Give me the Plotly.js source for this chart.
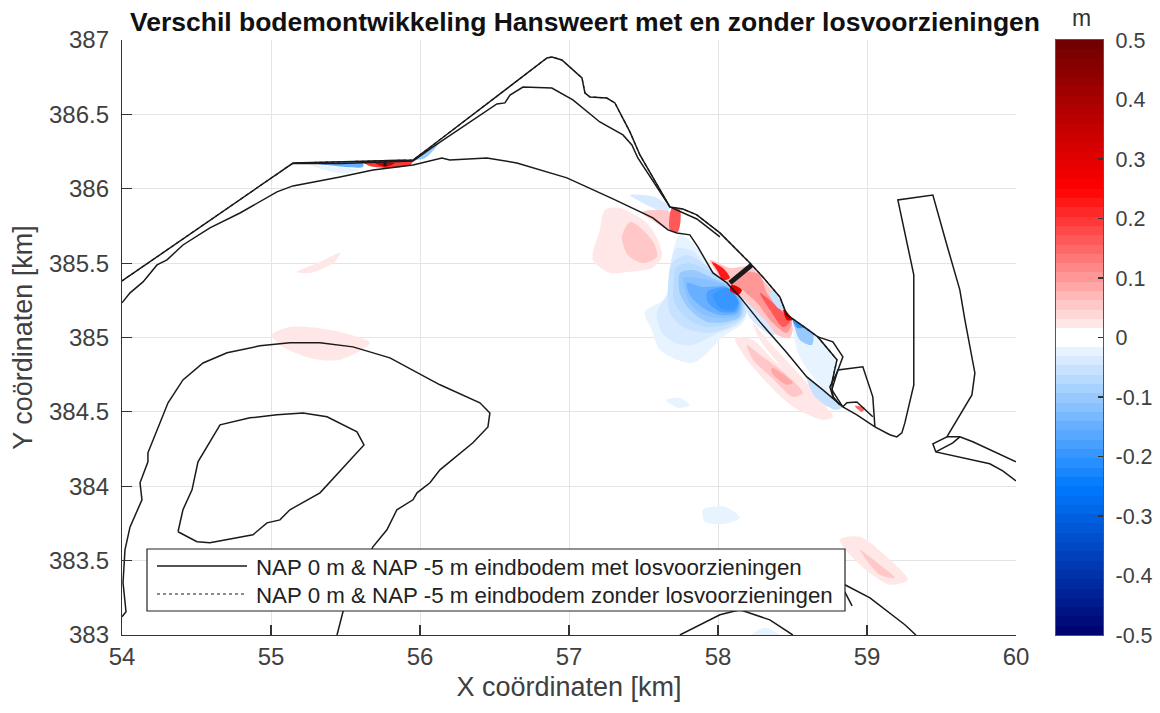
<!DOCTYPE html>
<html><head><meta charset="utf-8"><title>Verschil bodemontwikkeling Hansweert</title>
<script src="https://cdn.plot.ly/plotly-3.0.1.min.js"></script>
<style>html,body{margin:0;padding:0;background:#fff}</style></head>
<body><div id="chart" style="width:1160px;height:713px"></div>
<script>
// ---- bed-level lines (km) ----
const upperX=[54,55.148,55.953,56.087,56.852,56.886,56.952,57.087,57.107,57.141,57.254,57.308,57.409,57.476,57.677,57.764,57.858,58.013,58.214,58.301,58.415,58.462,58.502,58.67,58.798,58.764,58.771,58.818];
const upperY=[385.38,386.173,386.193,386.294,386.879,386.886,386.866,386.745,386.644,386.617,386.61,386.577,386.382,386.227,385.878,385.864,385.824,385.703,385.501,385.407,385.273,385.152,385.125,385.004,384.85,384.695,384.601,384.547];
const upperInnerX=[55.141,55.463,55.953,56.087,56.516,56.57,56.604,56.691,56.885,57.026,57.207,57.362,57.422,57.462,57.677,57.858,58.013];
const upperInnerY=[386.17,386.17,386.187,386.281,386.57,386.577,386.63,386.684,386.677,386.597,386.449,386.362,386.294,386.207,385.878,385.797,385.676];
const outerLoopX=[58.67,58.771,58.838,58.798,58.751,58.771,58.818];
const outerLoopY=[385.004,384.971,384.87,384.762,384.668,384.601,384.547];
const boxX=[58.838,58.764,58.805,58.972,59.039,59.053];
const boxY=[384.534,384.648,384.782,384.803,384.601,384.399];
const boxInnerX=[58.838,58.865,58.932,59.039];
const boxInnerY=[384.534,384.561,384.567,384.467];
const lowerX=[54,54.054,54.141,54.235,54.302,54.409,54.59,54.792,55.04,55.147,55.463,55.684,55.953,56.147,56.2,56.449,56.65,56.986,57.295,57.563,57.664,57.724,57.811,57.865,57.966,58.06,58.147,58.281,58.462,58.596,58.704,58.838,58.932,59.053,59.153,59.2,59.234,59.254,59.314,59.314,59.314,59.207,59.442,59.536,59.623,59.657,59.724,59.704,59.536,59.442,59.462,59.824,59.911,60];
const lowerY=[385.233,385.3,385.374,385.488,385.522,385.622,385.737,385.837,385.979,386.019,386.079,386.126,386.16,386.207,386.194,386.207,386.173,386.073,385.932,385.804,385.723,385.703,385.69,385.609,385.434,385.367,385.273,385.105,384.897,384.735,384.648,384.534,384.48,384.399,384.346,384.332,384.359,384.426,384.682,385.118,385.421,385.925,385.958,385.622,385.32,385.118,384.762,384.614,384.332,384.285,384.231,384.151,384.104,384.036];
const eastX=[59.536,59.623,59.71,60];
const eastY=[384.332,384.332,384.299,384.164];
const eastInnerX=[59.462,59.576,59.623];
const eastInnerY=[384.231,384.292,384.332];
const flatX=[54,54.027,54.007,54.02,54.054,54.134,54.121,54.174,54.174,54.309,54.409,54.544,54.705,54.926,55.127,55.329,55.55,55.798,56.134,56.402,56.469,56.456,56.355,56.134,56.067,55.98,55.953,55.845,55.778,55.684,55.483,55.443];
const flatY=[383.123,383.156,383.351,383.573,383.727,383.909,384.023,384.164,384.225,384.561,384.715,384.829,384.897,384.944,384.964,384.964,384.937,384.863,384.682,384.561,384.493,384.399,384.292,384.11,384.023,383.956,383.909,383.842,383.707,383.593,383.156,383];
const islandX=[54.376,54.409,54.47,54.51,54.658,54.859,55.04,55.215,55.376,55.577,55.624,55.329,55.127,55.06,54.973,54.879,54.59,54.503,54.376];
const islandY=[383.694,383.842,383.976,384.164,384.413,384.46,384.48,384.493,384.467,384.366,384.278,383.956,383.842,383.774,383.754,383.674,383.62,383.627,383.694];
const southAX=[57.744,58.013,58.147,58.348,58.502];
const southAY=[383,383.136,383.17,383.102,383];
const southBX=[58.851,59.02,59.254,59.328];
const southBY=[383.338,383.25,383.069,383];
const southCX=[58.851,58.9];
const southCY=[383.29,383.196];
// thick structures
const damX=[58.08,58.227];
const damY=[385.367,385.488];
const stubX=[55.765,55.765];
const stubY=[386.194,386.153];

// ---- difference patches (level in m, outline in km), drawn in this order ----
const pinkWestLevel=0.03,pinkWestX=[57.16,57.207,57.241,57.342,57.523,57.597,57.623,57.556,57.389,57.274],pinkWestY=[385.522,385.723,385.858,385.871,385.77,385.656,385.542,385.468,385.441,385.434];
const pinkWest2Level=0.05,pinkWest2X=[57.355,57.409,57.496,57.576,57.59,57.496,57.395],pinkWest2Y=[385.676,385.777,385.723,385.622,385.542,385.501,385.555];
const scour1Level=-0.02,scour1X=[57.744,57.858,57.959,58.06,58.167,58.194,58.167,58.033,57.899,57.832,57.724,57.61,57.556,57.509,57.657,57.677],scour1Y=[385.69,385.602,385.434,385.367,385.266,385.165,385.098,385.004,384.87,384.829,384.85,384.917,385.051,385.172,385.273,385.475];
const scour1bLevel=-0.035,scour1bX=[57.72,57.83,57.93,58.06,58.167,58.19,58.13,57.98,57.83,57.72,57.62,57.59,57.66,57.68],scour1bY=[385.6,385.58,385.47,385.367,385.266,385.16,385.085,385.02,384.95,384.96,385.04,385.17,385.3,385.48];
const scour2Level=-0.05,scour2X=[57.691,57.791,57.899,58.06,58.167,58.181,58.08,57.926,57.765,57.678,57.664],scour2Y=[385.501,385.555,385.501,385.367,385.266,385.152,385.071,385.031,385.071,385.165,385.32];
const scour2bLevel=-0.075,scour2bX=[57.72,57.81,57.92,58.06,58.165,58.165,58.07,57.925,57.79,57.71,57.7],scour2bY=[385.47,385.5,385.455,385.36,385.26,385.145,385.09,385.07,385.13,385.23,385.31];
const scour3Level=-0.1,scour3X=[57.744,57.832,57.946,58.06,58.16,58.147,58.06,57.926,57.811,57.744],scour3Y=[385.434,385.454,385.407,385.354,385.253,385.139,385.105,385.105,385.186,385.3];
const scour3bLevel=-0.125,scour3bX=[57.77,57.865,58,58.06,58.155,58.137,58.04,57.91,57.81],scour3bY=[385.4,385.4,385.37,385.347,385.245,385.152,385.13,385.15,385.235];
const scour4Level=-0.15,scour4X=[57.791,57.899,58.06,58.147,58.127,58.013,57.899,57.811],scour4Y=[385.367,385.34,385.34,385.239,385.165,385.152,385.199,385.286];
const scour4bLevel=-0.175,scour4bX=[57.93,58.06,58.14,58.115,58.01,57.93],scour4bY=[385.31,385.335,385.239,385.175,385.175,385.24];
const scour5Level=-0.2,scour5X=[57.966,58.06,58.134,58.101,58.013],scour5Y=[385.286,385.333,385.239,385.186,385.199];
const pinkSouth1Level=0.03,pinkSouth1X=[58.114,58.235,58.369,58.597,58.772,58.705,58.503,58.329,58.195],pinkSouth1Y=[384.997,384.984,384.85,384.648,384.467,384.446,384.534,384.695,384.85];
const pinkSouth2Level=0.06,pinkSouth2X=[58.195,58.282,58.436,58.57,58.503,58.362,58.235],pinkSouth2Y=[384.95,384.883,384.769,384.628,384.601,384.729,384.85];
const pinkSouth3Level=0.08,pinkSouth3X=[58.362,58.503,58.462,58.362],pinkSouth3Y=[384.796,384.695,384.682,384.762];
const pinkShoreLevel=0.03,pinkShoreX=[58.235,58.349,58.597,58.731,58.684,58.503,58.282],pinkShoreY=[385.098,384.964,384.695,384.534,384.534,384.715,384.984];
const red1Level=0.05,red1X=[57.946,58.08,58.214,58.301,58.415,58.469,58.502,58.482,58.395,58.295,58.194,58.094,58.013],red1Y=[385.522,385.468,385.475,385.387,385.253,385.139,385.071,384.997,385.018,385.118,385.233,385.34,385.407];
const red2Level=0.1,red2X=[58.194,58.281,58.328,58.435,58.496,58.462,58.368,58.261,58.147,58.08],red2Y=[385.441,385.421,385.3,385.172,385.105,385.031,385.098,385.233,385.333,385.367];
const red3Level=0.17,red3X=[58.281,58.435,58.482,58.435,58.348],red3Y=[385.3,385.172,385.105,385.071,385.186];
const red4Level=0.22,red4X=[57.959,58.033,58.08,58.033,57.993],red4Y=[385.508,385.468,385.4,385.387,385.454];
const red5Level=0.3,red5X=[58.094,58.16,58.134,58.08],red5Y=[385.354,385.32,385.286,385.32];
const red6Level=0.3,red6X=[58.435,58.502,58.462],red6Y=[385.199,385.118,385.118];
const stripLevel=-0.04,stripX=[58.181,58.315,58.382,58.349,58.214],stripY=[385.239,385.118,385.018,385.018,385.132];
const edgeLevel=-0.05,edgeX=[58.362,58.415,58.442,58.402,58.349],edgeY=[385.32,385.253,385.186,385.199,385.28];
const east1Level=-0.03,east1X=[58.502,58.67,58.751,58.798,58.751,58.637,58.536,58.502],east1Y=[385.118,385.004,384.897,384.803,384.628,384.735,384.897,385.071];
const east2Level=-0.1,east2X=[58.502,58.637,58.63,58.549,58.516],east2Y=[385.118,385.031,384.95,384.984,385.065];
const east3Level=-0.2,east3X=[58.502,58.57,58.53],east3Y=[385.118,385.065,385.065];
const east4Level=-0.06,east4X=[58.596,58.704,58.838,58.785,58.651],east4Y=[384.735,384.648,384.534,384.514,384.601];
const gate1Level=0.06,gate1X=[57.49,57.678,57.678,57.577],gate1Y=[385.844,385.844,385.723,385.777];
const gate2Level=0.17,gate2X=[57.691,57.744,57.731,57.678],gate2Y=[385.871,385.858,385.71,385.723];
const gate3Level=-0.04,gate3X=[57.409,57.577,57.678,57.644,57.523],gate3Y=[385.958,385.945,385.871,385.844,385.891];
const spot1Level=0.03,spot1X=[55.174,55.329,55.463,55.429,55.261],spot1Y=[385.441,385.508,385.569,385.508,385.434];
const spot2Level=0.025,spot2X=[55.007,55.127,55.396,55.664,55.463,55.261,55.06],spot2Y=[385.018,385.071,385.051,384.964,384.85,384.863,384.95];
const spot3Level=-0.02,spot3X=[57.65,57.744,57.811,57.731],spot3Y=[384.581,384.594,384.547,384.527];
const spot4Level=-0.025,spot4X=[57.899,58.047,58.147,58.047,57.912],spot4Y=[383.842,383.862,383.788,383.748,383.761];
const spot5Level=0.03,spot5X=[58.818,58.952,59.153,59.274,59.153,58.952],spot5Y=[383.64,383.66,383.506,383.371,383.338,383.472];
const spot6Level=0.05,spot6X=[58.952,59.086,59.187,59.086],spot6Y=[383.573,383.472,383.385,383.405];
const spot7Level=-0.03,spot7X=[58.227,58.315,58.415],spot7Y=[383,383.049,383];
const spot8Level=0.15,spot8X=[58.919,58.986,58.966],spot8Y=[384.54,384.527,384.5];
const sliver1Level=-0.03,sliver1X=[55.261,55.597,55.463],sliver1Y=[386.16,386.126,386.106];
const sliver2Level=-0.15,sliver2X=[55.282,55.617,55.617,55.429],sliver2Y=[386.173,386.173,386.147,386.153];
const sliver3Level=0.2,sliver3X=[55.617,55.953,55.932,55.778,55.664],sliver3Y=[386.18,386.187,386.16,386.14,386.153];
const sliver4Level=0.35,sliver4X=[55.698,55.832,55.765],sliver4Y=[386.173,386.173,386.147];
const sliver5Level=-0.1,sliver5X=[55.953,56.067,56.134,56.034],sliver5Y=[386.194,386.274,386.315,386.207];

// ---- labels ----
const titleText='Verschil bodemontwikkeling Hansweert met en zonder losvoorzieningen';
const xTitle='X coördinaten [km]', yTitle='Y coördinaten [km]', unitLabel='m';
const legendMet='NAP 0 m & NAP -5 m eindbodem met losvoorzieningen';
const legendZonder='NAP 0 m & NAP -5 m eindbodem zonder losvoorzieningen';
const colorbarTicks=[-0.5,-0.4,-0.3,-0.2,-0.1,0,0.1,0.2,0.3,0.4,0.5];
const colorbarBands=[-.4922,-.4766,-.4609,-.4453,-.4297,-.4141,-.3984,-.3828,-.3672,-.3516,-.3359,-.3203,-.3047,-.2891,-.2734,-.2578,-.2422,-.2266,-.2109,-.1953,-.1797,-.1641,-.1484,-.1328,-.1172,-.1016,-.0859,-.0703,-.0547,-.0391,-.0234,-.0078,.0078,.0234,.0391,.0547,.0703,.0859,.1016,.1172,.1328,.1484,.1641,.1797,.1953,.2109,.2266,.2422,.2578,.2734,.2891,.3047,.3203,.3359,.3516,.3672,.3828,.3984,.4141,.4297,.4453,.4609,.4766,.4922];
const xTicks=[54,55,56,57,58,59,60];
const yTicks=[383,383.5,384,384.5,385,385.5,386,386.5,387];
const yTickLabels=['383','383.5','384','384.5','385','385.5','386','386.5','387'];

// ---- colour map anchors ----
const mapAnchors=[[-0.5,[0,0,110]],[-0.25,[0,122,255]],[0,[255,255,255]],[0.25,[255,0,0]],[0.5,[110,0,0]]];
const nBands=colorbarBands.length;
function mapColour(v){
  for(let i=0;i<mapAnchors.length-1;i++){
    const [a,ca]=mapAnchors[i],[b,cb]=mapAnchors[i+1];
    if(v<=b){const t=Math.max(0,(v-a)/(b-a));
      return 'rgb('+ca.map((c,k)=>Math.round(c+(cb[k]-c)*t)).join(',')+')';}
  }
  return 'rgb(110,0,0)';
}
function bandColour(v){ // snap to the 64 map bands, with the central pair white
  const w=1/nBands, idx=Math.min(nBands-1,Math.floor((v+0.5)/w));
  const mid=colorbarBands[idx];
  return mapColour(Math.abs(mid)<w?0:mid);
}
const stepped=[];
colorbarBands.forEach((b,i)=>{const c=bandColour(b);stepped.push([i/nBands,c],[(i+1)/nBands,c]);});

function patch(level,x,y){
  return {type:'scatter',mode:'lines',x:x.concat(x[0]),y:y.concat(y[0]),fill:'toself',fillcolor:bandColour(level),
    line:{width:0,color:bandColour(level),shape:'spline',smoothing:0.8},hoverinfo:'skip',showlegend:false};
}
function contour(x,y,name,dash,width){
  return {type:'scatter',mode:'lines',x:x,y:y,name:name||'',showlegend:false,
    line:{color:'#1a1a1a',width:width||1.5,dash:dash||'solid'},hoverinfo:'skip'};
}

const traces=[
 patch(pinkWestLevel,pinkWestX,pinkWestY),patch(pinkWest2Level,pinkWest2X,pinkWest2Y),
 patch(scour1Level,scour1X,scour1Y),patch(scour1bLevel,scour1bX,scour1bY),patch(scour2Level,scour2X,scour2Y),patch(scour2bLevel,scour2bX,scour2bY),patch(scour3Level,scour3X,scour3Y),patch(scour3bLevel,scour3bX,scour3bY),patch(scour4Level,scour4X,scour4Y),patch(scour4bLevel,scour4bX,scour4bY),patch(scour5Level,scour5X,scour5Y),
 patch(pinkSouth1Level,pinkSouth1X,pinkSouth1Y),patch(pinkSouth2Level,pinkSouth2X,pinkSouth2Y),patch(pinkSouth3Level,pinkSouth3X,pinkSouth3Y),patch(pinkShoreLevel,pinkShoreX,pinkShoreY),
 patch(red1Level,red1X,red1Y),patch(stripLevel,stripX,stripY),patch(red2Level,red2X,red2Y),patch(red3Level,red3X,red3Y),patch(red4Level,red4X,red4Y),patch(red5Level,red5X,red5Y),patch(red6Level,red6X,red6Y),patch(edgeLevel,edgeX,edgeY),
 patch(east1Level,east1X,east1Y),patch(east2Level,east2X,east2Y),patch(east3Level,east3X,east3Y),patch(east4Level,east4X,east4Y),
 patch(gate3Level,gate3X,gate3Y),patch(gate1Level,gate1X,gate1Y),patch(gate2Level,gate2X,gate2Y),
 patch(spot1Level,spot1X,spot1Y),patch(spot2Level,spot2X,spot2Y),patch(spot3Level,spot3X,spot3Y),patch(spot4Level,spot4X,spot4Y),patch(spot5Level,spot5X,spot5Y),patch(spot6Level,spot6X,spot6Y),patch(spot7Level,spot7X,spot7Y),patch(spot8Level,spot8X,spot8Y),
 patch(sliver1Level,sliver1X,sliver1Y),patch(sliver2Level,sliver2X,sliver2Y),patch(sliver3Level,sliver3X,sliver3Y),patch(sliver4Level,sliver4X,sliver4Y),patch(sliver5Level,sliver5X,sliver5Y),
 contour(upperX,upperY,legendMet),
 contour(upperX,upperY,legendZonder,'dot',1.2),
 contour(upperInnerX,upperInnerY),contour(outerLoopX,outerLoopY),contour(boxX,boxY),contour(boxInnerX,boxInnerY),
 contour(lowerX,lowerY),contour(eastX,eastY),contour(eastInnerX,eastInnerY),
 contour(flatX,flatY),contour(islandX,islandY),contour(southAX,southAY),contour(southBX,southBY),contour(southCX,southCY),
 contour(damX,damY,'','solid',5),contour(stubX,stubY,'','solid',3),
 {type:'heatmap',xaxis:'x2',yaxis:'y2',x:[0],y:colorbarBands,z:colorbarBands.map(v=>[v]),zmin:-0.5,zmax:0.5,
  colorscale:stepped,showscale:false,hoverinfo:'skip'}
];

const family='Liberation Sans, Arial, sans-serif';
const tickFont={family:family,size:24,color:'#404040'};
const titleFont={family:family,size:27,color:'#404040'};
const plotW=1103-122, plotH=595;
const px=v=>(v-122)/plotW, py=v=>(635-v)/plotH; // legend box placement within the figure
const layout={
 width:1160,height:713,autosize:false,paper_bgcolor:'#fff',plot_bgcolor:'#fff',
 margin:{l:122,r:57,t:40,b:78,pad:0},
 title:{text:'<b>'+titleText+'</b>',x:585/1160,xanchor:'center',xref:'container',y:1-22/713,yanchor:'middle',yref:'container',
  font:{family:family,size:26.5,color:'#111'}},
 xaxis:{domain:[0,894/plotW],range:[54,60],tickvals:xTicks,ticktext:xTicks.map(String),ticks:'inside',ticklen:10,tickcolor:'#333',tickwidth:1.2,
  showline:true,linecolor:'#333',linewidth:1.2,mirror:false,showgrid:true,gridcolor:'#e4e4e4',gridwidth:1,zeroline:false,tickfont:tickFont,
  automargin:false,title:{text:xTitle,font:titleFont,standoff:8}},
 yaxis:{range:[383,387],tickvals:yTicks,ticktext:yTickLabels,ticks:'inside',ticklen:10,tickcolor:'#333',tickwidth:1.2,ticklabelstandoff:7,
  showline:true,linecolor:'#333',linewidth:1.2,mirror:false,showgrid:true,gridcolor:'#e4e4e4',gridwidth:1,zeroline:false,tickfont:tickFont,
  automargin:false,title:{text:yTitle,font:titleFont,standoff:8}},
 xaxis2:{domain:[(1056-122)/plotW,1],range:[-0.5,0.5],showticklabels:false,ticks:'',showgrid:false,zeroline:false,showline:true,mirror:true,linecolor:'#555',linewidth:1.2,anchor:'y2'},
 yaxis2:{domain:[0,1],range:[-0.5,0.5],anchor:'x2',side:'right',tickvals:colorbarTicks,ticktext:colorbarTicks.map(String),ticks:'inside',ticklen:5,tickcolor:'#333',tickwidth:1.2,ticklabelstandoff:7,
  showgrid:false,zeroline:false,showline:true,mirror:true,linecolor:'#555',linewidth:1.2,tickfont:{family:family,size:21.5,color:'#404040'},automargin:false},
 shapes:[
  {type:'rect',xref:'paper',yref:'paper',x0:px(147),x1:px(845),y0:py(611),y1:py(549),fillcolor:'#fff',line:{color:'#222',width:1.2},layer:'above'},
  {type:'line',xref:'paper',yref:'paper',x0:px(157),x1:px(247),y0:py(566),y1:py(566),line:{color:'#1a1a1a',width:1.5},layer:'above'},
  {type:'line',xref:'paper',yref:'paper',x0:px(157),x1:px(247),y0:py(594),y1:py(594),line:{color:'#1a1a1a',width:1,dash:'dot'},layer:'above'}
 ],
 annotations:[
  {text:unitLabel,xref:'paper',yref:'paper',x:px(1081),y:1+22/plotH,xanchor:'center',yanchor:'middle',showarrow:false,font:{family:family,size:23,color:'#333'}},
  {text:legendMet,xref:'paper',yref:'paper',x:px(255),y:py(567),xanchor:'left',yanchor:'middle',showarrow:false,borderpad:0,font:{family:family,size:22.3,color:'#222'}},
  {text:legendZonder,xref:'paper',yref:'paper',x:px(255),y:py(595),xanchor:'left',yanchor:'middle',showarrow:false,borderpad:0,font:{family:family,size:22.3,color:'#222'}}
 ],
 showlegend:false
};
Plotly.newPlot('chart',traces,layout,{displayModeBar:false,staticPlot:true});
</script></body></html>
